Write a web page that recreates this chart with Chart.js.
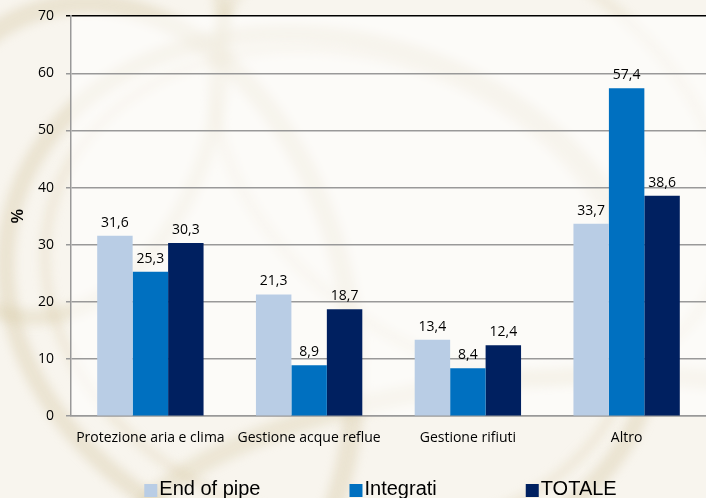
<!DOCTYPE html>
<html>
<head>
<meta charset="utf-8">
<script src="https://cdn.jsdelivr.net/npm/chart.js@4/dist/chart.umd.min.js"></script>
<style>
  html, body { margin: 0; padding: 0; background: #fbfaf6; overflow: hidden; }
  #wrap { width: 706px; height: 498px; position: relative; }
</style>
</head>
<body>
<div id="wrap"><canvas id="c"></canvas></div>
<script>
// Categories and series (percent)
const categories = ['Protezione aria e clima', 'Gestione acque reflue', 'Gestione rifiuti', 'Altro'];
const endOfPipe = [31.6, 21.3, 13.4, 33.7];
const integrati = [25.3, 8.9, 8.4, 57.4];
const totale = [30.3, 18.7, 12.4, 38.6];
const seriesNames = ['End of pipe', 'Integrati', 'TOTALE'];
const yTicks = [0, 10, 20, 30, 40, 50, 60, 70];

const colors = ['#b9cde5', '#0070c0', '#002060'];
const fmt = v => v.toFixed(1).replace('.', ',');

// Soft decorative rings behind the chart
const backdrop = {
  id: 'backdrop',
  beforeDraw(chart) {
    const { ctx, width, height, chartArea: a } = chart;
    ctx.save();
    ctx.fillStyle = '#f8f5ee';
    ctx.fillRect(0, 0, width, height);
    ctx.filter = 'blur(5px)';
    const rings = [
      [330, 300, 330, 260, 0.3, 'rgba(205,188,145,0.30)', 18],
      [340, 290, 300, 235, 0.3, 'rgba(215,200,160,0.25)', 10],
      [120, 330, 230, 330, -0.2, 'rgba(205,188,145,0.30)', 20],
      [470, 150, 280, 200, 0.6, 'rgba(215,200,160,0.22)', 12],
      [520, 520, 400, 140, -0.1, 'rgba(210,193,150,0.28)', 20],
      [60, 80, 160, 240, 0.2, 'rgba(210,193,150,0.28)', 16]
    ];
    rings.forEach(([x, y, rx, ry, rot, col, lw]) => {
      ctx.beginPath();
      ctx.ellipse(x, y, rx, ry, rot, 0, Math.PI * 2);
      ctx.strokeStyle = col;
      ctx.lineWidth = lw;
      ctx.stroke();
    });
    ctx.filter = 'none';
    ctx.fillStyle = 'rgba(255,255,255,0.6)';
    ctx.fillRect(a.left, a.top, a.right - a.left, a.bottom - a.top);
    ctx.restore();
  }
};

// Value labels above each bar
const valueLabels = {
  id: 'valueLabels',
  afterDatasetsDraw(chart) {
    const { ctx } = chart;
    ctx.save();
    ctx.font = '14px "Open Sans"';
    ctx.fillStyle = '#000';
    ctx.textAlign = 'center';
    ctx.textBaseline = 'alphabetic';
    chart.data.datasets.forEach((ds, i) => {
      chart.getDatasetMeta(i).data.forEach((bar, j) => {
        ctx.fillText(fmt(ds.data[j]), bar.x, bar.y - 9);
      });
    });
    ctx.restore();
  }
};

// Legend row along the bottom
const bottomLegend = {
  id: 'bottomLegend',
  afterDraw(chart) {
    const { ctx, chartArea: a } = chart;
    ctx.save();
    ctx.font = '20px "Liberation Sans", Arial, sans-serif';
    ctx.textBaseline = 'alphabetic';
    const box = 13, gapBox = 2, gapItem = 89;
    const items = chart.data.datasets.map(ds => ({
      label: ds.label, color: ds.backgroundColor,
      w: box + gapBox + ctx.measureText(ds.label).width
    }));
    const total = items.reduce((s, it) => s + it.w, 0) + gapItem * (items.length - 1);
    let x = (a.left + a.right) / 2 - 8 - total / 2;
    const baseY = chart.height - 3;
    items.forEach(it => {
      ctx.fillStyle = it.color;
      ctx.fillRect(x, baseY - 11, box, box);
      ctx.fillStyle = '#000';
      ctx.fillText(it.label, x + box + gapBox, baseY);
      x += it.w + gapItem;
    });
    ctx.restore();
  }
};

new Chart(document.getElementById('c'), {
  type: 'bar',
  data: {
    labels: categories,
    datasets: [
      { label: seriesNames[0], data: endOfPipe, backgroundColor: colors[0] },
      { label: seriesNames[1], data: integrati, backgroundColor: colors[1] },
      { label: seriesNames[2], data: totale, backgroundColor: colors[2] }
    ]
  },
  options: {
    responsive: true,
    maintainAspectRatio: false,
    animation: false,
    devicePixelRatio: 1,
    layout: { padding: { left: 8, right: 0, top: 1, bottom: 39 } },
    datasets: { bar: { barPercentage: 1, categoryPercentage: 0.67, borderWidth: 0 } },
    plugins: { legend: { display: false }, tooltip: { enabled: false } },
    scales: {
      x: {
        grid: { display: false, drawTicks: false },
        border: { display: true, color: '#999', width: 1.5 },
        ticks: { color: '#000', font: { family: 'Open Sans', size: 14 }, padding: 13, maxRotation: 0, autoSkip: false }
      },
      y: {
        min: 0, max: 70,
        afterBuildTicks(axis) { axis.ticks = yTicks.map(v => ({ value: v })); },
        afterFit(axis) { axis.width = 63; },
        grid: {
          color: ctx => ctx.tick && ctx.tick.value === 70 ? '#000' : '#999',
          lineWidth: 1.5,
          tickLength: 5
        },
        border: { display: true, color: '#999', width: 1.5 },
        ticks: { color: '#000', font: { family: 'Open Sans', size: 14, lineHeight: 0.6 }, padding: 12 },
        title: { display: true, text: '%', color: '#000', font: { family: 'Liberation Sans', size: 16, weight: 'bold' }, padding: { top: 1, bottom: 0 } }
      }
    }
  },
  plugins: [backdrop, valueLabels, bottomLegend]
});
</script>
</body>
</html>
